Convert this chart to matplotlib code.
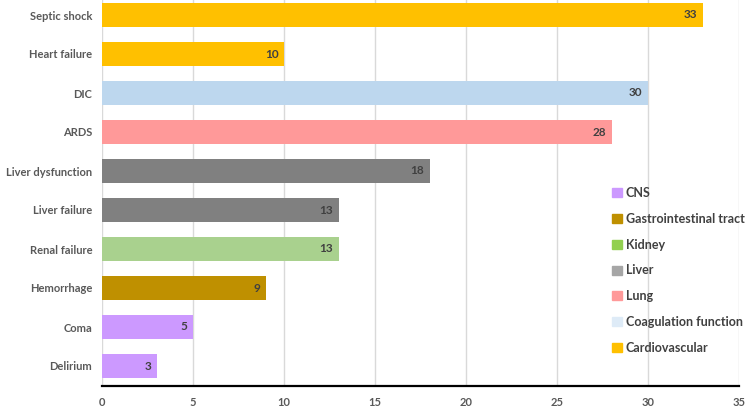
import matplotlib.pyplot as plt
from matplotlib.patches import Patch

plt.rcParams['font.family'] = ['Lato', 'DejaVu Sans']

# Data, top to bottom as shown
categories = ['Septic shock', 'Heart failure', 'DIC', 'ARDS', 'Liver dysfunction',
              'Liver failure', 'Renal failure', 'Hemorrhage', 'Coma', 'Delirium']
counts = [33, 10, 30, 28, 18, 13, 13, 9, 5, 3]
systems = ['Cardiovascular', 'Cardiovascular', 'Coagulation function', 'Lung', 'Liver',
           'Liver', 'Kidney', 'Gastrointestinal tract', 'CNS', 'CNS']

legend_order = ['CNS', 'Gastrointestinal tract', 'Kidney', 'Liver', 'Lung',
                'Coagulation function', 'Cardiovascular']
bar_colors = {
    'CNS': '#CC99FF',
    'Gastrointestinal tract': '#BF9000',
    'Kidney': '#A9D18E',
    'Liver': '#808080',
    'Lung': '#FF9999',
    'Coagulation function': '#BDD7EE',
    'Cardiovascular': '#FFC000',
}
legend_colors = {
    'CNS': '#CC99FF',
    'Gastrointestinal tract': '#BF9000',
    'Kidney': '#92D050',
    'Liver': '#A6A6A6',
    'Lung': '#FF9999',
    'Coagulation function': '#DEEBF7',
    'Cardiovascular': '#FFC000',
}

fig = plt.figure(figsize=(7.5, 4.07), dpi=100)
ax = fig.add_axes([102 / 750, 21.5 / 407, 637 / 750, 390 / 407])

n = len(categories)
ypos = [n - 1 - i for i in range(n)]
ax.barh(ypos, counts, height=0.62, color=[bar_colors[s] for s in systems], zorder=2)

for y, v in zip(ypos, counts):
    ax.annotate(str(v), xy=(v, y), xytext=(-4, 0), textcoords='offset points',
                ha='right', va='center', fontsize=8.5, fontweight='bold', color='#404040')

ax.set_xlim(0, 35)
ax.set_ylim(-0.5, n - 0.5)
ax.set_xticks(range(0, 36, 5))
ax.set_yticks(ypos)
ax.set_yticklabels(categories)
ax.tick_params(axis='both', length=0, labelsize=8, labelcolor='#595959')
ax.tick_params(axis='y', pad=7)
ax.tick_params(axis='x', pad=8)
for lab in ax.get_yticklabels() + ax.get_xticklabels():
    lab.set_fontweight('bold')

ax.grid(axis='x', color='#D9D9D9', linewidth=1, zorder=0)
for side in ['top', 'right', 'left']:
    ax.spines[side].set_visible(False)
ax.spines['bottom'].set_color('black')
ax.spines['bottom'].set_linewidth(1.6)

handles = [Patch(color=legend_colors[s], label=s) for s in legend_order]
leg = fig.legend(handles=handles, loc='upper left', bbox_to_anchor=(601 / 750, 1 - 176 / 407),
                 frameon=False, handlelength=0.75, handleheight=0.75,
                 handletextpad=0.35, labelspacing=1.1, prop={'weight': 'bold', 'size': 9})
for t in leg.get_texts():
    t.set_color('#404040')

fig.savefig('out.png', dpi=100)
